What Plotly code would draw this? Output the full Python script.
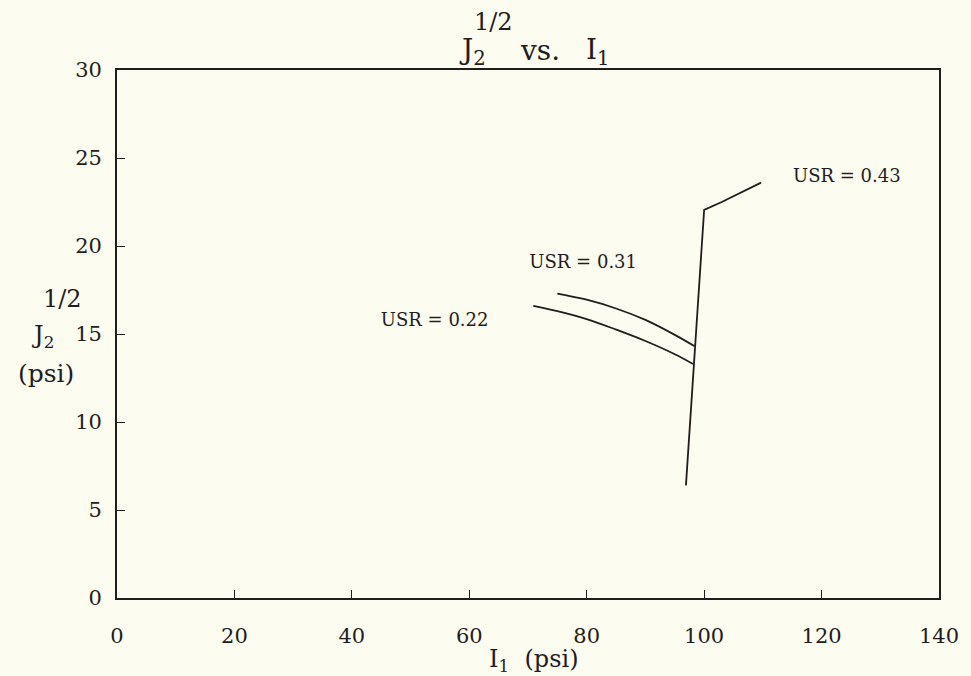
import plotly.graph_objects as go

# curves (I1 in psi, sqrt(J2) in psi)
usr022_i1 = [70.9, 75, 80, 85, 90, 95, 98.1]
usr022_j2 = [16.6, 16.3, 15.85, 15.25, 14.6, 13.85, 13.3]

usr031_i1 = [75.0, 80, 85, 90, 95, 98.4]
usr031_j2 = [17.3, 16.95, 16.45, 15.8, 14.95, 14.3]

usr043_i1 = [96.9, 100.0, 103.0, 106.0, 109.7]
usr043_j2 = [6.4, 22.05, 22.5, 23.0, 23.6]

label_text = ["USR = 0.22", "USR = 0.31", "USR = 0.43"]
label_i1 = [54.1, 79.4, 124.3]
label_j2 = [15.7, 19.0, 23.9]

x_ticks = [0, 20, 40, 60, 80, 100, 120, 140]
y_ticks = [0, 5, 10, 15, 20, 25, 30]

ink = "#231c1c"
paper = "#fdfcf1"
serif = "DejaVu Serif"

fig = go.Figure()
for xs, ys, shp in [(usr022_i1, usr022_j2, "spline"),
                    (usr031_i1, usr031_j2, "spline"),
                    (usr043_i1, usr043_j2, "linear")]:
    fig.add_trace(go.Scatter(x=xs, y=ys, mode="lines",
                             line=dict(color=ink, width=1.8, shape=shp),
                             showlegend=False, hoverinfo="skip"))

fig.add_trace(go.Scatter(x=label_i1, y=label_j2, mode="text", text=label_text,
                         textfont=dict(family=serif, size=18, color=ink),
                         showlegend=False, hoverinfo="skip"))

W, H = 971, 676
L, R, T, B = 117, 30, 70, 78
pw, ph = W - L - R, H - T - B


def ann(text, x, y, size):
    # x, y are screen pixels in the 971x676 window
    return dict(text=text, x=(x - L) / pw, y=(H - B - y) / ph,
                xref="paper", yref="paper", xanchor="center", yanchor="middle",
                showarrow=False, font=dict(size=size))


fig.update_layout(
    width=W, height=H,
    margin=dict(l=L, r=R, t=T, b=B),
    paper_bgcolor=paper, plot_bgcolor=paper,
    font=dict(family=serif, color=ink),
    xaxis=dict(range=[0, 140], tickvals=x_ticks, ticks="inside", ticklen=8,
               tickcolor=ink, showline=True, linecolor=ink, linewidth=1.8,
               mirror=True, showgrid=False, zeroline=False,
               ticklabelstandoff=18,
               tickfont=dict(family=serif, size=21, color=ink)),
    yaxis=dict(range=[0, 30], tickvals=y_ticks, ticks="inside", ticklen=8,
               tickcolor=ink, showline=True, linecolor=ink, linewidth=1.8,
               mirror=True, showgrid=False, zeroline=False,
               ticklabelstandoff=9,
               tickfont=dict(family=serif, size=21, color=ink)),
    annotations=[
        ann("1/2", 494, 22, 24),
        ann("J<sub>2</sub>", 473, 52, 28),
        ann("vs.", 541, 50, 28),
        ann("I<sub>1</sub>", 599, 52, 28),
        ann("1/2", 62, 299, 24),
        ann("J<sub>2</sub>", 42, 336, 24),
        ann("(psi)", 46, 373, 25),
        ann("I<sub>1</sub>  (psi)", 535, 660, 24),
    ],
)

fig.write_html("out.html", config={"displayModeBar": False},
               post_script="document.body.style.margin='0';"
                           "document.body.style.background='%s';" % paper)
